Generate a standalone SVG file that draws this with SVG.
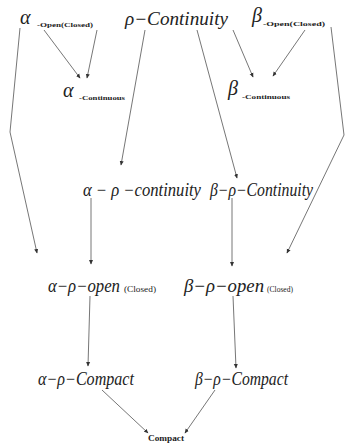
<svg xmlns="http://www.w3.org/2000/svg" width="345" height="447" viewBox="0 0 345 447">
<style>
text{font-family:'Liberation Serif','DejaVu Serif',serif;fill:#222}
.m{font-style:italic;font-size:18px}
.g{font-style:italic;font-size:20px}
.s{font-weight:bold;font-size:7px}
.c{font-size:7.5px}
.b{font-weight:bold;font-size:9px}
.e{fill:none;stroke:#666;stroke-width:0.9}
</style>
<defs>
<marker id="a" markerWidth="5" markerHeight="5" refX="4" refY="2.5" orient="auto" markerUnits="userSpaceOnUse">
<path d="M0,0.5 L4.5,2.5 L0,4.5 Z" fill="#333"/>
</marker>
</defs>
<g id="connectors">
<path class="e" d="M44,30 L80,78" marker-end="url(#a)"/>
<path class="e" d="M97,30 L87,78" marker-end="url(#a)"/>
<path class="e" d="M145,30 L121,165" marker-end="url(#a)"/>
<path class="e" d="M197,30 L237,178" marker-end="url(#a)"/>
<path class="e" d="M233,30 L253,77" marker-end="url(#a)"/>
<path class="e" d="M305,30 L273,76" marker-end="url(#a)"/>
<path class="e" d="M20,28 L10,132 L37,253" marker-end="url(#a)"/>
<path class="e" d="M331,27 L344,135 L287,253" marker-end="url(#a)"/>
<path class="e" d="M91,198 L91,264" marker-end="url(#a)"/>
<path class="e" d="M232,198 L232,266" marker-end="url(#a)"/>
<path class="e" d="M90,296 L88,366" marker-end="url(#a)"/>
<path class="e" d="M233,296 L236,368" marker-end="url(#a)"/>
<path class="e" d="M102,390 L148,433" marker-end="url(#a)"/>
<path class="e" d="M215,390 L185,433" marker-end="url(#a)"/>
</g>
<g id="alpha-open">
<text class="g" x="20" y="24">α</text>
<text class="s" x="37" y="27" textLength="56" lengthAdjust="spacingAndGlyphs">-Open(Closed)</text>
</g>
<g id="rho-continuity">
<text class="m" x="125" y="25" textLength="103" lengthAdjust="spacingAndGlyphs">ρ−Continuity</text>
</g>
<g id="beta-open">
<text class="g" x="252" y="22">β</text>
<text class="s" x="263" y="26" textLength="62" lengthAdjust="spacingAndGlyphs">-Open(Closed)</text>
</g>
<g id="alpha-continuous">
<text class="g" x="63" y="97">α</text>
<text class="s" x="79" y="100" textLength="46" lengthAdjust="spacingAndGlyphs">-Continuous</text>
</g>
<g id="beta-continuous">
<text class="g" x="228" y="95">β</text>
<text class="s" x="242" y="99" textLength="48" lengthAdjust="spacingAndGlyphs">-Continuous</text>
</g>
<g id="alpha-rho-continuity">
<text class="m" x="83" y="196" textLength="118" lengthAdjust="spacingAndGlyphs">α − ρ −continuity</text>
</g>
<g id="beta-rho-continuity">
<text class="m" x="210" y="196" textLength="103" lengthAdjust="spacingAndGlyphs">β−ρ−Continuity</text>
</g>
<g id="alpha-rho-open">
<text class="m" x="48" y="292" textLength="72" lengthAdjust="spacingAndGlyphs">α−ρ−open</text>
<text class="c" x="124" y="292" textLength="32" lengthAdjust="spacingAndGlyphs">(Closed)</text>
</g>
<g id="beta-rho-open">
<text class="m" x="184" y="292" textLength="80" lengthAdjust="spacingAndGlyphs">β−ρ−open</text>
<text class="c" x="267" y="292" textLength="26" lengthAdjust="spacingAndGlyphs">(Closed)</text>
</g>
<g id="alpha-rho-compact">
<text class="m" x="38" y="385" textLength="96" lengthAdjust="spacingAndGlyphs">α−ρ−Compact</text>
</g>
<g id="beta-rho-compact">
<text class="m" x="195" y="385" textLength="93" lengthAdjust="spacingAndGlyphs">β−ρ−Compact</text>
</g>
<g id="compact">
<text class="b" x="148" y="441" textLength="36" lengthAdjust="spacingAndGlyphs">Compact</text>
</g>
</svg>
